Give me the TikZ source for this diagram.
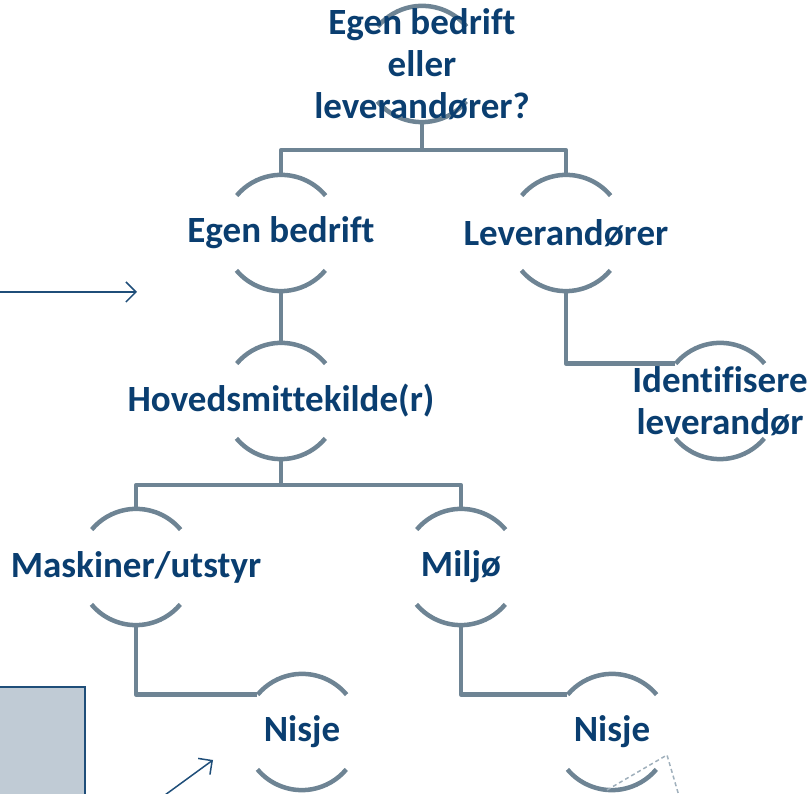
\documentclass[tikz,border=0pt]{standalone}
\usepackage{fontspec}
\setmainfont{Carlito}[Ligatures=CommonOff]
\usetikzlibrary{arrows.meta,backgrounds}
\definecolor{inkblue}{RGB}{10,62,112}
\definecolor{ringgray}{RGB}{110,132,148}
\definecolor{arrowblue}{RGB}{31,78,121}
\definecolor{panelfill}{RGB}{192,203,213}
\definecolor{dashgray}{RGB}{160,176,188}
\tikzset{
  ring/.style={circle, minimum size=116pt, inner sep=0pt},
  txt/.style={text=inkblue, font=\fontsize{37}{42}\selectfont\bfseries,
    align=center, inner sep=0pt},
  rim/.style={draw=ringgray, line width=4.5pt},
  link/.style={draw=ringgray, line width=4.5pt, line join=round},
  pointer/.style={draw=arrowblue, line width=1.5pt,
    -{Straight Barb[length=10pt,width=20pt]}},
  panel/.style={draw=arrowblue, line width=1.5pt, fill=panelfill},
  ghost/.style={draw=dashgray, line width=1.5pt, dash pattern=on 4pt off 3pt}
}

\begin{document}
\begin{tikzpicture}[x=1pt,y=1pt]
      \useasboundingbox (0,0) rectangle (811,794);
      % rings with labels
      \node[ring, label={[txt]center:{Egen bedrift\\eller\\leverandører?}}] (root) at (422,730) {};
      \node[ring, label={[txt]center:Egen bedrift}] (own) at (281,561) {};
      \node[ring, label={[txt]center:Leverandører}] (supp) at (566,561) {};
      \node[ring, label={[txt]center:{Identifisere\\leverandør}}] (ident) at (720,393) {};
      \node[ring, label={[txt]center:Hovedsmittekilde(r)}] (mainsrc) at (281,393) {};
      \node[ring, label={[txt]center:Maskiner/utstyr}] (mach) at (136,227) {};
      \node[ring, label={[txt]center:Miljø}] (env) at (461,227) {};
      \node[ring, label={[txt]center:Nisje}] (nicheA) at (302,62) {};
      \node[ring, label={[txt]center:Nisje}] (nicheB) at (612,62) {};
      % junctions
      \coordinate (j1) at ([yshift=-28pt]root.south);
      \coordinate (j2) at ([yshift=-26pt]mainsrc.south);
      \begin{pgfonlayer}{background}
        % arcs
        \foreach \n in {root,own,supp,ident,mainsrc,mach,env,nicheA,nicheB}{
          \draw[rim] (\n.40) arc (40:140:58pt);
          \draw[rim] (\n.220) arc (220:320:58pt);
        }
        % links
        \draw[link] (root.south) -- (j1);
        \draw[link] (own.north) |- (j1) -| (supp.north);
        \draw[link] (supp.south) |- (ident.140);
        \draw[link] (own.south) -- (mainsrc.north);
        \draw[link] (mainsrc.south) -- (j2);
        \draw[link] (mach.north) |- (j2) -| (env.north);
        \draw[link] (mach.south) |- (nicheA.140);
        \draw[link] (env.south) |- (nicheB.140);
      \end{pgfonlayer}
      % side panel and pointers
      \draw[panel] (-3,-3) rectangle (85,107);
      \coordinate (inL) at (-2,502);
      \coordinate (inR) at (137,502);
      \draw[pointer] (inL) -- (inR);
      \coordinate (upA) at (165,-1);
      \coordinate (upB) at (213,34);
      \draw[pointer] (upA) -- (upB);
      % dashed outline
      \coordinate (d1) at (607,4);
      \coordinate (d2) at (667,39);
      \coordinate (d3) at (679,-2);
      \draw[ghost] (d1) -- (d2) -- (d3);
    \end{tikzpicture}
\end{document}
